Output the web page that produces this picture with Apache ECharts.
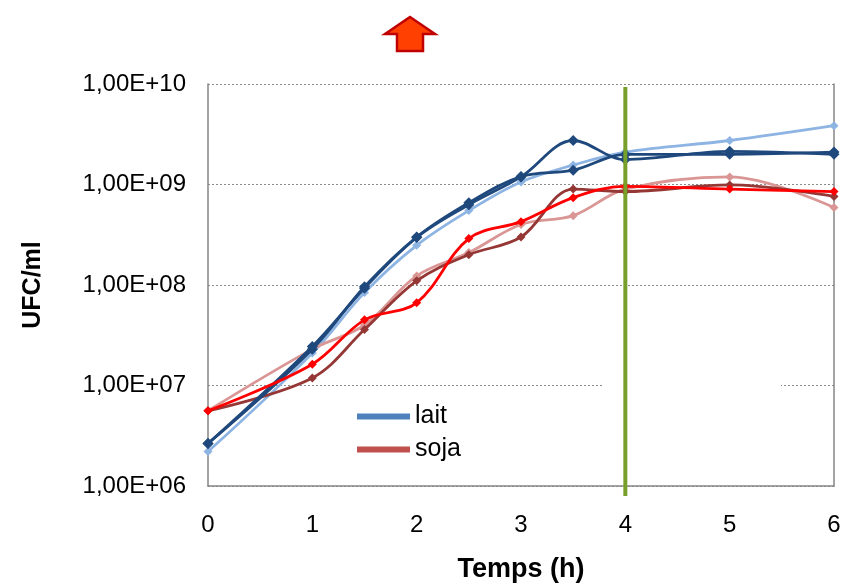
<!DOCTYPE html>
<html>
<head>
<meta charset="utf-8">
<script src="https://cdn.jsdelivr.net/npm/echarts@6/dist/echarts.min.js"></script>
<style>
  html, body { margin: 0; padding: 0; background: #fff; }
  #chart { width: 856px; height: 588px; }
</style>
</head>
<body>
<div id="chart"></div>
<script>
// temps (h)
var hours = [0, 1, 1.5, 2, 2.5, 3, 3.5, 4, 5, 6];
// lait
var laitPeak  = [2.65e6, 2.45e7, 9.3e7, 2.97e8, 6.3e8, 1.19e9, 2.74e9, 1.77e9, 2.14e9, 2.0e9];
var laitFlat  = [2.65e6, 2.3e7, 9.6e7, 3.0e8, 6.6e8, 1.2e9, 1.39e9, 1.99e9, 2.0e9, 2.1e9];
var laitLight = [2.2e6, 2.1e7, 8.4e7, 2.48e8, 5.5e8, 1.06e9, 1.56e9, 2.1e9, 2.74e9, 3.85e9];
// soja
var sojaRed   = [5.6e6, 1.63e7, 4.5e7, 6.65e7, 2.9e8, 4.27e8, 7.4e8, 9.6e8, 9.0e8, 8.5e8];
var sojaDark  = [5.6e6, 1.19e7, 3.6e7, 1.1e8, 2.0e8, 3.0e8, 9.0e8, 8.5e8, 9.9e8, 7.6e8];
var sojaPink  = [5.6e6, 2.3e7, 4.0e7, 1.23e8, 2.1e8, 4.0e8, 4.9e8, 9.0e8, 1.19e9, 5.9e8];

var yTickLabels = ['1,00E+06', '1,00E+07', '1,00E+08', '1,00E+09', '1,00E+10'];
var legendNames = ['lait', 'soja'];
var markHour = 4;

function pairs(vals) {
    return hours.map(function (h, i) { return [h, vals[i]]; });
}

function line(vals, color, size, z) {
    return {
        type: 'line',
        data: pairs(vals),
        smooth: 0.35,
        symbol: 'diamond',
        symbolSize: size,
        z: z,
        lineStyle: { color: color, width: 2.8 },
        itemStyle: { color: color }
    };
}

var myChart = echarts.init(document.getElementById('chart'));
var font = 'Liberation Sans, Arial, sans-serif';

var series = [
    line(laitLight, '#8DB4E2', 9, 2),
    line(sojaPink, '#D99694', 9, 2),
    line(sojaDark, '#953735', 9, 3),
    line(laitFlat, '#1F497D', 11, 3),
    line(laitPeak, '#1F497D', 11, 3),
    line(sojaRed, '#FF0000', 9, 4),
    // entrées de légende
    { name: legendNames[0], type: 'line', data: [], itemStyle: { color: '#4F81BD' } },
    { name: legendNames[1], type: 'line', data: [], itemStyle: { color: '#C0504D' } }
];

var option = {
    animation: false,
    backgroundColor: '#fff',
    grid: { left: 208, right: 22, top: 84, bottom: 98 },
    legend: {
        data: legendNames,
        orient: 'vertical',
        left: 352,
        top: 399,
        icon: 'rect',
        itemWidth: 53,
        itemHeight: 6,
        itemGap: 8,
        textStyle: { fontFamily: font, fontSize: 25, color: '#000' }
    },
    xAxis: {
        type: 'value',
        min: 0,
        max: 6,
        interval: 1,
        name: 'Temps (h)',
        nameLocation: 'middle',
        nameGap: 70,
        nameTextStyle: { fontFamily: font, fontSize: 27, fontWeight: 'bold', color: '#000' },
        axisLine: { lineStyle: { color: '#868686', width: 1.5 } },
        axisTick: { show: false },
        splitLine: { show: false },
        axisLabel: { fontFamily: font, fontSize: 24, color: '#000', margin: 27 }
    },
    yAxis: [{
        type: 'log',
        logBase: 10,
        min: 1e6,
        max: 1e10,
        name: 'UFC/ml',
        nameLocation: 'middle',
        nameGap: 162,
        nameTextStyle: { fontFamily: font, fontSize: 25, fontWeight: 'bold', color: '#000' },
        axisLine: { show: true, lineStyle: { color: '#868686', width: 1.5 } },
        axisTick: { show: false },
        minorTick: { show: false },
        splitLine: { show: true, lineStyle: { color: '#8C8C8C', width: 1, type: [2, 2] } },
        axisLabel: {
            fontFamily: font, fontSize: 24, color: '#000', margin: 22,
            formatter: function (v) {
                return yTickLabels[Math.round(Math.log10(v)) - 6];
            }
        }
    }, {
        type: 'log',
        logBase: 10,
        min: 1e6,
        max: 1e10,
        position: 'right',
        axisLine: { show: true, lineStyle: { color: '#868686', width: 1.5 } },
        axisTick: { show: false },
        axisLabel: { show: false },
        splitLine: { show: false }
    }],
    graphic: [
        {
            id: 'cache',
            type: 'rect',
            z: 1,
            shape: { x: 603, y: 376, width: 178, height: 24 },
            style: { fill: '#fff' }
        },
        {
            id: 'fleche',
            type: 'polygon',
            z: 10,
            shape: {
                points: [[410, 17], [435, 34], [423, 34], [423, 51], [397, 51], [397, 34], [385, 34]]
            },
            style: { fill: '#FF4000', stroke: '#C00000', lineWidth: 2.5 }
        }
    ],
    series: series
};
myChart.setOption(option);

// trait vertical vert à t = 4 h, un peu sous l'axe comme dans l'original
var gx = myChart.convertToPixel({ xAxisIndex: 0 }, markHour);
var gTop = myChart.convertToPixel({ yAxisIndex: 0 }, 1e10);
var gBottom = myChart.convertToPixel({ yAxisIndex: 0 }, 1e6);
myChart.setOption({
    graphic: [{
        id: 'repere',
        type: 'line',
        z: 6,
        shape: { x1: gx, y1: gTop + 3, x2: gx, y2: gBottom + 10 },
        style: { stroke: '#77A02A', lineWidth: 4 }
    }]
});
</script>
</body>
</html>
